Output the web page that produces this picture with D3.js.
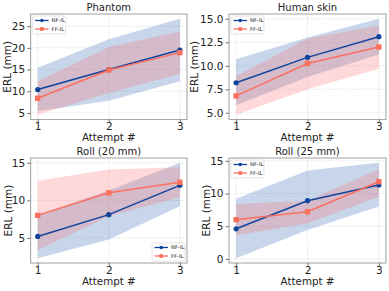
<!DOCTYPE html>
<html><head><meta charset="utf-8">
<script src="https://cdn.jsdelivr.net/npm/d3@7"></script>
<style>
html,body{margin:0;padding:0;background:#fff;}
svg{display:block;font-family:"DejaVu Sans",sans-serif;}
</style></head>
<body>
<svg id="chart" width="389" height="291"></svg>
<script>
// ---- data ----
const attempts = [1, 2, 3];
const titles = ["Phantom", "Human skin", "Roll (20 mm)", "Roll (25 mm)"];
const seriesNames = ["NF-IL", "FF-IL"];

const nfMean = [[10.4, 15.0, 19.5], [8.2, 10.9, 13.1], [5.2, 8.1, 12.0], [4.6, 8.9, 11.3]];
const nfLow  = [[5.4, 7.8, 12.3],   [5.8, 8.8, 11.2],  [2.3, 4.8, 9.2],  [0.1, 4.4, 8.0]];
const nfHigh = [[15.4, 22.0, 26.7], [10.7, 13.0, 15.0], [8.1, 11.3, 15.0], [9.2, 13.5, 14.7]];

const ffMean = [[8.4, 14.9, 18.9],  [6.8, 10.25, 12.0], [8.0, 11.0, 12.4], [6.0, 7.2, 11.8]];
const ffLow  = [[4.6, 9.6, 14.0],   [4.8, 7.5, 9.7],   [3.4, 7.9, 10.4], [3.6, 5.4, 9.5]];
const ffHigh = [[12.3, 20.2, 23.8], [8.9, 12.9, 14.3], [12.6, 14.1, 14.4], [8.4, 8.9, 13.7]];

const yTicks = [[5, 10, 15, 20, 25], [5.0, 7.5, 10.0, 12.5, 15.0], [5, 10, 15], [0, 5, 10, 15]];
const yTickLabels = [["5","10","15","20","25"], ["5.0","7.5","10.0","12.5","15.0"], ["5","10","15"], ["0","5","10","15"]];
const xTickLabels = ["1", "2", "3"];
const legendPos = ["tl", "tl", "br", "tl"];

// ---- layout ----
const boxes = [
  {l: 30.6, r: 187, t: 14, b: 119.5, ylab: 11},
  {l: 229,  r: 386, t: 14, b: 119.5, ylab: 198},
  {l: 30.6, r: 187, t: 158, b: 263, ylab: 12},
  {l: 229,  r: 386, t: 158, b: 263, ylab: 209.5}
];
const colNF = "#0f449c", colFF = "#fb6f5f";
const bandNF = "rgba(62,112,186,0.29)", bandFF = "rgba(255,110,110,0.26)";

const svg = d3.select("#chart");

boxes.forEach((bx, i) => {
  const allVals = nfLow[i].concat(nfHigh[i], ffLow[i], ffHigh[i]);
  const mn = d3.min(allVals), mx = d3.max(allVals), pad = (mx - mn) * 0.05;
  const x = d3.scaleLinear().domain([0.9, 3.1]).range([bx.l, bx.r]);
  const y = d3.scaleLinear().domain([mn - pad, mx + pad]).range([bx.b, bx.t]);
  const g = svg.append("g");

  // grid
  g.selectAll(".gx").data(attempts).enter().append("line")
    .attr("x1", d => x(d)).attr("x2", d => x(d)).attr("y1", bx.t).attr("y2", bx.b)
    .attr("stroke", "#cfcfcf").attr("stroke-width", 0.8).attr("stroke-dasharray", "0.8,1.4");
  g.selectAll(".gy").data(yTicks[i]).enter().append("line")
    .attr("x1", bx.l).attr("x2", bx.r).attr("y1", d => y(d)).attr("y2", d => y(d))
    .attr("stroke", "#cfcfcf").attr("stroke-width", 0.8).attr("stroke-dasharray", "0.8,1.4");

  // bands
  const area = (lo, hi) => d3.area().x((d, k) => x(attempts[k])).y0((d, k) => y(lo[k])).y1((d, k) => y(hi[k]))(attempts);
  g.append("path").attr("d", area(nfLow[i], nfHigh[i])).attr("fill", bandNF);
  g.append("path").attr("d", area(ffLow[i], ffHigh[i])).attr("fill", bandFF);

  // lines
  const line = vals => d3.line().x((d, k) => x(attempts[k])).y((d, k) => y(vals[k]))(attempts);
  g.append("path").attr("d", line(nfMean[i])).attr("fill", "none").attr("stroke", colNF).attr("stroke-width", 1.5);
  g.selectAll(".mnf").data(nfMean[i]).enter().append("circle")
    .attr("cx", (d, k) => x(attempts[k])).attr("cy", d => y(d)).attr("r", 2.6).attr("fill", colNF);
  g.append("path").attr("d", line(ffMean[i])).attr("fill", "none").attr("stroke", colFF).attr("stroke-width", 1.5);
  g.selectAll(".mff").data(ffMean[i]).enter().append("rect")
    .attr("x", (d, k) => x(attempts[k]) - 2.7).attr("y", d => y(d) - 2.7)
    .attr("width", 5.4).attr("height", 5.4).attr("fill", colFF);

  // spines
  g.append("rect").attr("x", bx.l).attr("y", bx.t).attr("width", bx.r - bx.l).attr("height", bx.b - bx.t)
    .attr("fill", "none").attr("stroke", "#a8a8a8").attr("stroke-width", 1.1);

  // axes
  const xa = d3.axisBottom(x).tickValues(attempts).tickFormat((d, k) => xTickLabels[k]).tickSize(3.5).tickPadding(0);
  const ya = d3.axisLeft(y).tickValues(yTicks[i]).tickFormat((d, k) => yTickLabels[i][k]).tickSize(3.5).tickPadding(2);
  const gx = g.append("g").attr("transform", `translate(0,${bx.b})`).call(xa);
  const gy = g.append("g").attr("transform", `translate(${bx.l},0)`).call(ya);
  [gx, gy].forEach(a => {
    a.select(".domain").remove();
    a.selectAll("line").attr("stroke", "#555").attr("stroke-width", 0.8);
    a.selectAll("text").attr("fill", "#222").style("font-size", "10.5px").style("font-family", "DejaVu Sans");
  });
  gx.selectAll("text").attr("dy", "0.68em");

  // labels
  g.append("text").attr("x", (bx.l + bx.r) / 2).attr("y", bx.t - 3.5).attr("text-anchor", "middle")
    .style("font-size", "10px").attr("fill", "#222").text(titles[i]);
  g.append("text").attr("x", (bx.l + bx.r) / 2).attr("y", bx.b + 21.5).attr("text-anchor", "middle")
    .style("font-size", "10.3px").attr("fill", "#222").text("Attempt #");
  g.append("text").attr("transform", `translate(${bx.ylab},${(bx.t + bx.b) / 2}) rotate(-90)`)
    .attr("text-anchor", "middle").style("font-size", "10.5px").attr("fill", "#222").text("ERL (mm)");

  // legend
  const lw = 33, lh = 18;
  const lx = legendPos[i] === "tl" ? bx.l + 2 : bx.r - lw - 2;
  const ly = legendPos[i] === "tl" ? bx.t + 2 : bx.b - lh - 2;
  const lg = g.append("g").attr("transform", `translate(${lx},${ly})`);
  lg.append("rect").attr("width", lw).attr("height", lh).attr("rx", 1.5)
    .attr("fill", "rgba(255,255,255,0.8)").attr("stroke", "#d0d0d0").attr("stroke-width", 0.6);
  seriesNames.forEach((nm, k) => {
    const yy = 4.5 + k * 8.5;
    const c = k === 0 ? colNF : colFF;
    lg.append("line").attr("x1", 2.5).attr("x2", 16).attr("y1", yy).attr("y2", yy).attr("stroke", c).attr("stroke-width", 1.3);
    if (k === 0) lg.append("circle").attr("cx", 9.25).attr("cy", yy).attr("r", 1.8).attr("fill", c);
    else lg.append("rect").attr("x", 7.4).attr("y", yy - 1.85).attr("width", 3.7).attr("height", 3.7).attr("fill", c);
    lg.append("text").attr("x", 19).attr("y", yy + 1.9).style("font-size", "5.3px").attr("fill", "#222").text(nm);
  });
});
</script>
</body></html>
